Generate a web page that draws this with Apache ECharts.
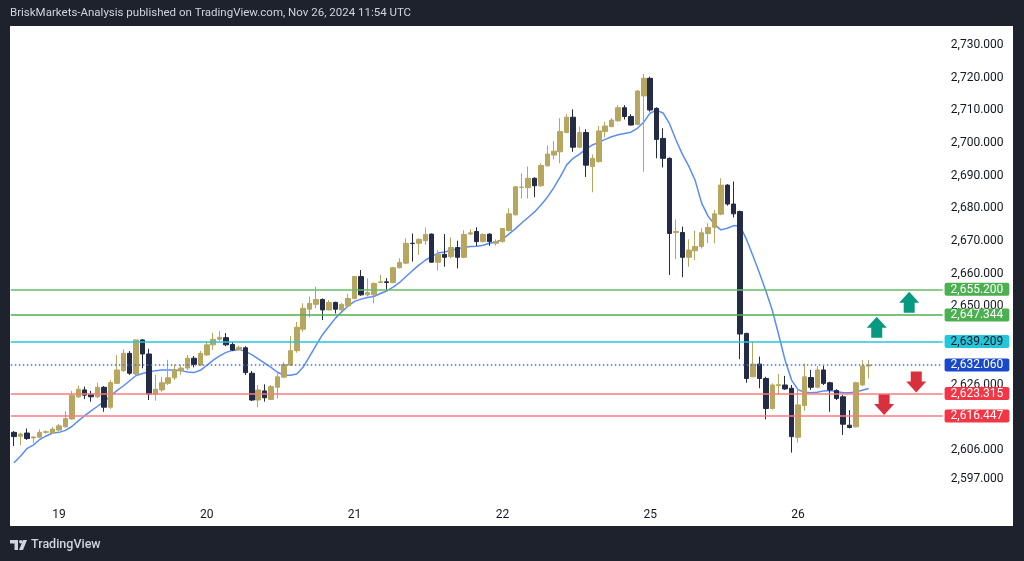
<!DOCTYPE html>
<html><head><meta charset="utf-8">
<script src="https://cdn.jsdelivr.net/npm/echarts@6/dist/echarts.min.js"></script>
<style>html,body{margin:0;padding:0;background:#1e222d;overflow:hidden}#c{width:1024px;height:561px}</style>
</head><body><div id="c"></div>
<script>
// ---- data ----
const days = ['18', '19', '20', '21', '22', '25', '26'];
const barsPerDay = [7, 23, 23, 23, 23, 23, 12];
const openP = [2611.4,2610.2,2611.2,2609.7,2609.9,2611.4,2611.3,2612.1,2613.1,2615.5,2622.3,2624.4,2623.1,2622.3,2625.2,2619.1,2626.4,2630.3,2635.6,2629.3,2639.7,2635.4,2623.1,2624.4,2626.4,2628.1,2630.3,2631.1,2634.1,2632.0,2635.1,2638.2,2639.9,2640.4,2638.3,2636.8,2637.3,2629.5,2621.3,2624.1,2621.5,2625.2,2628.3,2632.0,2636.4,2643.0,2649.1,2650.6,2652.1,2648.9,2651.2,2648.9,2650.1,2652.4,2659.1,2653.5,2653.5,2657.3,2657.5,2657.3,2661.8,2663.2,2669.3,2669.3,2670.1,2672.1,2663.5,2665.9,2665.2,2668.0,2665.0,2672.1,2672.9,2669.8,2672.1,2669.3,2669.8,2673.2,2678.0,2686.4,2686.3,2689.2,2686.9,2693.0,2696.3,2697.3,2703.2,2707.9,2698.7,2703.2,2692.8,2694.3,2703.5,2705.0,2706.8,2710.8,2708.1,2705.7,2714.4,2719.8,2710.6,2701.4,2695.3,2672.6,2672.6,2665.0,2667.0,2668.3,2672.3,2674.2,2678.2,2687.1,2681.3,2679.0,2641.7,2628.4,2632.3,2627.9,2618.7,2625.7,2625.9,2624.9,2609.9,2619.6,2628.2,2625.2,2630.5,2626.6,2624.2,2622.3,2613.6,2613.1,2625.9,2631.7];
const highP = [2611.8,2611.3,2612.6,2610.2,2612.3,2612.0,2613.0,2614.0,2617.9,2624.1,2625.7,2625.4,2624.1,2626.6,2625.6,2627.4,2635.0,2636.8,2636.3,2639.8,2640.0,2637.0,2629.0,2628.4,2633.6,2632.2,2632.0,2635.1,2634.8,2636.3,2639.1,2641.9,2642.4,2641.8,2639.1,2638.0,2637.8,2630.2,2625.9,2626.1,2625.9,2629.5,2632.9,2640.9,2645.2,2650.9,2653.0,2656.0,2652.4,2651.9,2651.4,2651.1,2653.8,2659.3,2661.1,2658.6,2657.3,2659.6,2658.6,2662.1,2664.7,2670.8,2672.3,2670.8,2674.1,2672.3,2667.2,2672.1,2671.1,2670.1,2673.3,2673.6,2674.2,2672.3,2672.3,2670.5,2674.0,2680.0,2686.8,2690.7,2692.8,2689.5,2693.8,2699.2,2700.6,2707.6,2708.8,2710.3,2705.0,2704.2,2696.5,2705.2,2706.5,2707.6,2711.6,2711.6,2708.8,2716.2,2721.1,2720.3,2710.9,2704.5,2695.6,2676.6,2674.4,2670.5,2673.2,2673.9,2675.4,2679.5,2689.2,2687.4,2688.2,2679.3,2641.9,2639.2,2634.6,2628.4,2626.4,2629.3,2628.7,2625.9,2624.9,2632.5,2630.5,2631.7,2631.7,2626.9,2624.6,2622.8,2618.2,2626.9,2633.5,2633.5];
const lowP = [2607.2,2607.5,2609.1,2608.2,2609.7,2611.0,2610.9,2611.8,2612.9,2615.3,2621.9,2621.6,2620.8,2621.9,2617.7,2618.6,2626.2,2629.9,2629.0,2628.4,2631.0,2621.3,2621.1,2623.8,2625.9,2627.4,2629.0,2630.5,2631.3,2631.7,2634.8,2636.6,2639.4,2637.8,2636.3,2636.4,2629.0,2621.0,2619.1,2620.8,2621.3,2621.8,2628.0,2631.7,2635.8,2642.1,2646.6,2649.4,2645.8,2648.7,2647.8,2648.7,2649.7,2652.1,2653.2,2653.0,2650.9,2657.2,2654.8,2657.0,2661.6,2663.0,2663.7,2665.7,2668.8,2663.4,2660.9,2662.1,2664.7,2661.6,2664.7,2671.8,2668.5,2669.5,2668.5,2668.6,2669.5,2672.9,2677.8,2683.0,2683.0,2683.4,2686.6,2692.8,2695.0,2693.8,2703.0,2697.3,2698.4,2689.6,2684.9,2694.0,2701.7,2704.8,2706.5,2707.2,2705.3,2705.5,2691.2,2709.6,2695.3,2692.5,2659.6,2664.4,2658.9,2662.1,2664.2,2667.7,2669.3,2669.3,2677.9,2680.8,2677.2,2633.8,2626.6,2628.3,2624.9,2615.4,2618.4,2622.9,2624.4,2605.2,2608.3,2618.0,2624.4,2624.9,2625.9,2617.7,2621.3,2610.6,2612.6,2612.9,2625.6,2627.9];
const closeP = [2610.1,2610.9,2609.5,2610.0,2611.4,2611.6,2612.4,2613.4,2615.6,2622.8,2624.6,2622.8,2622.3,2625.2,2619.1,2626.7,2630.5,2635.6,2629.5,2639.7,2635.4,2623.1,2624.6,2626.6,2628.1,2630.5,2631.1,2634.1,2632.2,2635.6,2638.2,2639.9,2640.5,2638.2,2636.6,2637.4,2629.7,2621.3,2624.4,2622.0,2625.4,2628.4,2632.2,2636.4,2643.6,2649.4,2650.9,2652.1,2648.9,2651.2,2649.1,2650.6,2652.4,2659.1,2653.5,2654.2,2657.0,2657.5,2657.3,2661.8,2663.4,2669.3,2669.2,2670.5,2672.0,2663.5,2665.9,2665.0,2668.0,2665.0,2672.0,2672.5,2669.8,2672.0,2669.8,2669.8,2673.8,2678.3,2686.6,2686.5,2689.2,2686.9,2693.1,2696.6,2697.5,2703.5,2707.9,2698.7,2703.2,2693.2,2695.3,2703.7,2705.2,2707.0,2710.8,2708.1,2705.5,2715.9,2719.8,2710.1,2701.1,2695.3,2672.3,2672.9,2665.0,2667.2,2668.3,2672.5,2674.1,2678.3,2687.1,2681.3,2678.3,2641.5,2627.9,2632.3,2627.9,2618.7,2625.9,2626.0,2624.7,2610.1,2619.8,2628.4,2625.2,2630.5,2626.4,2624.4,2621.8,2613.9,2612.9,2626.6,2631.7,2632.06];
const maValues = [2602.1,2604.1,2606.4,2607.5,2609.2,2610.3,2611.2,2611.4,2612.0,2613.2,2614.9,2616.5,2618.0,2619.4,2620.8,2622.5,2624.2,2625.6,2627.2,2628.8,2629.4,2629.9,2630.3,2630.5,2630.5,2630.5,2630.3,2629.9,2629.7,2630.4,2631.9,2633.5,2634.8,2635.9,2636.5,2636.8,2636.2,2635.2,2633.9,2632.6,2631.3,2629.8,2628.9,2628.9,2629.3,2631.4,2634.7,2638.0,2641.3,2643.8,2646.3,2648.3,2650.1,2651.5,2652.2,2652.7,2653.0,2653.9,2654.7,2655.9,2657.3,2659.1,2660.9,2662.6,2664.1,2665.3,2666.3,2666.6,2667.1,2667.6,2668.0,2668.3,2668.4,2668.7,2669.3,2669.7,2670.5,2672.1,2673.7,2675.5,2677.2,2678.9,2681.0,2683.4,2686.3,2689.6,2693.3,2695.3,2696.6,2698.1,2699.4,2700.2,2701.1,2701.9,2702.5,2702.9,2703.3,2704.5,2706.4,2709.2,2710.0,2709.2,2705.9,2701.0,2696.6,2692.9,2688.5,2681.6,2677.6,2675.1,2673.4,2673.9,2674.7,2674.5,2670.4,2665.4,2660.2,2654.7,2648.8,2641.2,2633.4,2627.4,2624.5,2623.7,2623.5,2623.7,2624.1,2624.2,2623.9,2623.5,2623.5,2623.8,2624.3,2624.8];
const levels = [2655.2, 2647.344, 2639.209, 2632.06, 2623.315, 2616.447];
const levelLabels = ['2,655.200', '2,647.344', '2,639.209', '2,632.060', '2,623.315', '2,616.447'];
const yTickValues = [2597, 2606, 2626, 2650, 2660, 2670, 2680, 2690, 2700, 2710, 2720, 2730];
const yTickLabels = ['2,597.000', '2,606.000', '2,626.000', '2,650.000', '2,660.000', '2,670.000', '2,680.000', '2,690.000', '2,700.000', '2,710.000', '2,720.000', '2,730.000'];
const upArrows = [[134.25, 2643.6], [139.3, 2651.2]];
const downArrows = [[135.4, 2619.9], [140.4, 2626.8]];

// ---- styles ----
const BULL = '#b6a660', BEAR = '#232b46';
const levelStyles = [
  { color: '#66bb6a', width: 1.5, type: 'solid', bg: '#4caf50', fg: '#ffffff' },
  { color: '#4caf50', width: 1.5, type: 'solid', bg: '#4caf50', fg: '#ffffff' },
  { color: '#26c6da', width: 1.5, type: 'solid', bg: '#26c6da', fg: '#131722' },
  { color: '#3f6ff5', width: 1.5, type: [1.5, 2.5], bg: '#1848cc', fg: '#ffffff' },
  { color: '#f77c80', width: 1.5, type: 'solid', bg: '#f23645', fg: '#ffffff' },
  { color: '#f77c80', width: 1.5, type: 'solid', bg: '#f23645', fg: '#ffffff' }
];

// ---- categories ----
const N = 145;
const session = [];
for (let h = 0; h <= 20; h++) session.push(h);
session.push(22, 23);
const categories = [];
const dayStarts = [];
days.forEach((d, k) => {
  const n = barsPerDay[k];
  const hrs = k === 0 ? session.slice(session.length - n) : session.slice(0, n);
  if (k > 0) dayStarts.push(categories.length);
  hrs.forEach(h => categories.push(d + ' ' + h + ':00'));
});
let extra = 1;
while (categories.length < N) categories.push('+' + (extra++));

const rich = {};
levelStyles.forEach((s, k) => {
  rich['s' + k] = { backgroundColor: s.bg, color: s.fg, fontSize: 12, fontFamily: 'Roboto', lineHeight: 13, padding: [1, 6, 0, 6], borderRadius: 2 };
});

// one line series per level, each only carrying a markLine
const levelSeries = levels.map((v, k) => ({
  type: 'line', data: [], z: 1, silent: true, symbol: 'none',
  markLine: {
    symbol: 'none', silent: true, label: { show: false }, animation: false,
    lineStyle: { color: levelStyles[k].color, width: levelStyles[k].width, type: levelStyles[k].type, opacity: 1 },
    emphasis: { disabled: true },
    data: [{ yAxis: v }]
  }
}));

const chart = echarts.init(document.getElementById('c'), null, { renderer: 'canvas' });
chart.setOption({
  animation: false,
  backgroundColor: '#1e222d',
  graphic: [
    { type: 'rect', z: -10, shape: { x: 10, y: 26, width: 1003, height: 500 }, style: { fill: '#ffffff' } },
    { type: 'text', x: 10, y: 13, style: { text: 'BriskMarkets-Analysis published on TradingView.com, Nov 26, 2024 11:54 UTC', fill: '#d1d4dc', fontSize: 11.5, fontFamily: 'Roboto', verticalAlign: 'middle' } },
    { type: 'polygon', shape: { points: [[10, 540], [18, 540], [18, 550], [14.5, 550], [14.5, 543.5], [10, 543.5]] }, style: { fill: '#d1d4dc' } },
    { type: 'circle', shape: { cx: 20.8, cy: 541.8, r: 1.8 }, style: { fill: '#d1d4dc' } },
    { type: 'polygon', shape: { points: [[23, 540], [27, 540], [23, 550], [19, 550]] }, style: { fill: '#d1d4dc' } },
    { type: 'text', x: 31, y: 545, style: { text: 'TradingView', fill: '#d1d4dc', fontSize: 12.5, fontFamily: 'Roboto', fontWeight: 500, verticalAlign: 'middle' } }
  ],
  grid: { left: 10.8, top: 45, width: 931.8, height: 434.4, containLabel: false },
  xAxis: [
    {
      type: 'category', data: categories, boundaryGap: true,
      axisLine: { show: false }, axisTick: { show: false }, splitLine: { show: false },
      axisLabel: {
        interval: (i) => dayStarts.indexOf(i) >= 0,
        formatter: (v) => v.split(' ')[0],
        color: '#131722', fontSize: 12, fontFamily: 'Roboto', margin: 30
      }
    },
    { type: 'value', min: -0.5, max: N - 0.5, show: false }
  ],
  yAxis: [
    {
      type: 'value', min: 2597, max: 2730, position: 'right', scale: true,
      splitLine: { show: false }, axisLine: { show: false }, axisTick: { show: false },
      axisLabel: {
        customValues: yTickValues, showMinLabel: true, showMaxLabel: true,
        formatter: (v) => { const k = yTickValues.indexOf(v); return k >= 0 ? yTickLabels[k] : ''; },
        align: 'right', margin: 61, color: '#131722', fontSize: 12, fontFamily: 'Roboto'
      }
    },
    {
      type: 'value', min: 2597, max: 2730, position: 'right', z: 10,
      splitLine: { show: false }, axisLine: { show: false }, axisTick: { show: false },
      axisLabel: {
        customValues: levels, showMinLabel: true, showMaxLabel: true,
        formatter: (v) => {
          let k = 0, best = Infinity;
          levels.forEach((l, j) => { if (Math.abs(l - v) < best) { best = Math.abs(l - v); k = j; } });
          return '{s' + k + '|' + levelLabels[k] + '}';
        },
        rich: rich, align: 'left', margin: 2
      }
    }
  ],
  series: levelSeries.concat([
    {
      type: 'line', data: maValues, symbol: 'none', z: 2, silent: true,
      lineStyle: { color: '#5b8cf5', width: 1.5 }
    },
    {
      type: 'candlestick', z: 3, barWidth: 5,
      data: openP.map((o, i) => [o, closeP[i], lowP[i], highP[i]]),
      itemStyle: { color: BULL, color0: BEAR, borderColor: BULL, borderColor0: BEAR, borderWidth: 1 }
    },
    {
      type: 'scatter', xAxisIndex: 1, yAxisIndex: 0, z: 4, silent: true,
      symbol: 'path://M10,0 L20,11 L15.5,11 L15.5,21 L4.5,21 L4.5,11 L0,11 Z',
      symbolSize: [20, 21], itemStyle: { color: '#089981', opacity: 1 },
      data: upArrows
    },
    {
      type: 'scatter', xAxisIndex: 1, yAxisIndex: 0, z: 4, silent: true,
      symbol: 'path://M4.5,0 L15.5,0 L15.5,10 L20,10 L10,21 L0,10 L4.5,10 Z',
      symbolSize: [20, 21], itemStyle: { color: '#d9303d', opacity: 1 },
      data: downArrows
    }
  ])
});
</script>
</body></html>
